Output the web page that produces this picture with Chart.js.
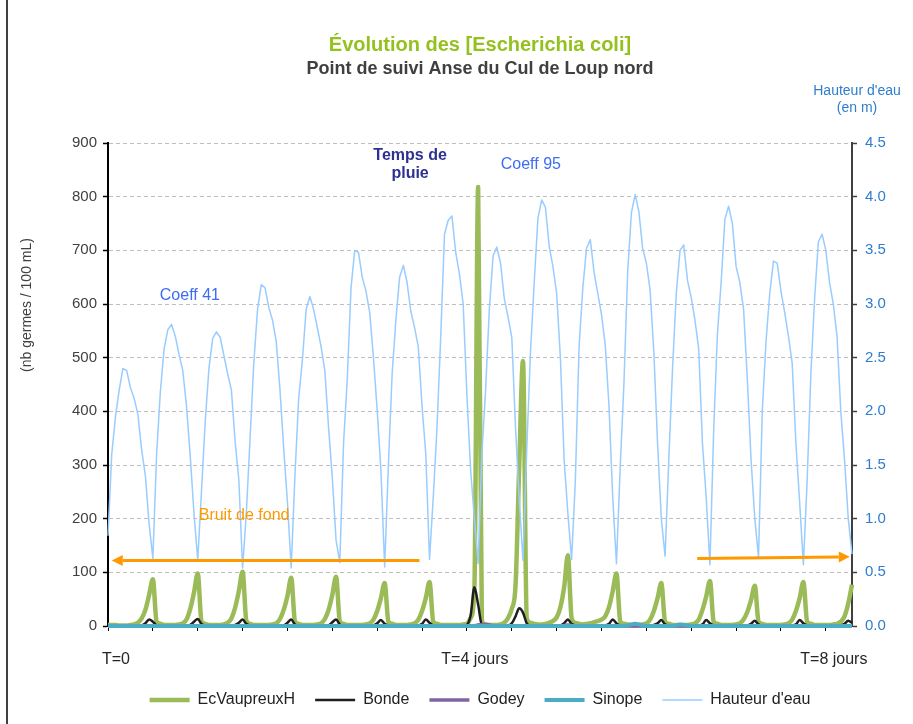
<!DOCTYPE html>
<html lang="fr">
<head>
<meta charset="utf-8">
<title>Évolution des [Escherichia coli]</title>
<script src="https://cdn.jsdelivr.net/npm/chart.js@4.4.1/dist/chart.umd.min.js"></script>
<style>
  html, body { margin: 0; padding: 0; background: #ffffff; }
  #wrap { width: 913px; height: 724px; position: relative; }
</style>
</head>
<body>
<div id="wrap"><canvas id="chart" width="913" height="724"></canvas></div>
<script>
// ---- Data: hourly samples over ~8 days (hour 0 .. 199) ----
const hours = Array.from({ length: 200 }, (_, i) => i);

// Water height (m), right axis
const hauteurEau = [
  0.84, 1.6, 1.95, 2.2, 2.4, 2.38, 2.22, 2.12, 1.97, 1.64, 1.4, 0.95,     // 0-11
  0.63, 1.6, 2.18, 2.58, 2.76, 2.81, 2.7, 2.53, 2.38, 2.05, 1.58, 1.05,   // 12-23
  0.61, 1.25, 1.9, 2.4, 2.68, 2.74, 2.69, 2.52, 2.35, 2.2, 1.72, 1.36,    // 24-35
  0.54, 1.05, 1.75, 2.45, 2.95, 3.18, 3.15, 2.97, 2.85, 2.65, 2.2, 1.65,  // 36-47
  1.15, 0.54, 1.4, 2.12, 2.48, 2.95, 3.07, 2.95, 2.78, 2.6, 2.38, 1.85,   // 48-59
  1.38, 0.8, 0.59, 1.7, 2.3, 3.15, 3.5, 3.48, 3.25, 3.12, 2.92, 2.5,      // 60-71
  2.01, 1.45, 0.55, 1.5, 2.35, 2.85, 3.25, 3.36, 3.2, 2.93, 2.78, 2.6,    // 72-83
  2.05, 1.6, 0.62, 1.2, 1.85, 2.7, 3.65, 3.78, 3.82, 3.48, 3.28, 3.0,     // 84-95
  2.15, 1.45, 1.0, 0.58, 1.6, 2.2, 2.95, 3.45, 3.53, 3.38, 3.05, 2.88,    // 96-107
  2.69, 1.85, 1.17, 0.61, 1.64, 2.55, 3.2, 3.8, 3.97, 3.9, 3.54, 3.35,    // 108-119
  3.1, 2.5, 1.55, 1.05, 0.62, 1.35, 2.6, 3.15, 3.52, 3.6, 3.3, 3.1,       // 120-131
  2.9, 2.62, 2.05, 1.2, 0.58, 1.48, 2.26, 3.3, 3.85, 4.02, 3.86, 3.52,    // 132-143
  3.38, 3.13, 2.55, 1.7, 1.0, 0.65, 1.55, 2.4, 3.1, 3.5, 3.55, 3.22,      // 144-155
  3.06, 2.85, 2.58, 1.7, 1.2, 0.57, 1.82, 2.72, 3.2, 3.79, 3.91, 3.75,    // 156-167
  3.35, 3.2, 2.95, 2.3, 1.55, 1.0, 0.64, 2.0, 2.65, 3.1, 3.4, 3.38,       // 168-179
  3.12, 2.92, 2.7, 2.45, 1.7, 1.15, 0.57, 1.35, 2.35, 3.05, 3.58, 3.65,   // 180-191
  3.5, 3.2, 3.0, 2.7, 2.0, 1.55, 1.0, 0.67                                // 192-199
];

// E. coli counts (nb germes / 100 mL), left axis
const ecVaupreuxH = [
  2, 2, 2, 1, 1, 1, 2, 3, 6, 14, 30, 58,          // 0-11
  87, 8, 4, 2, 2, 2, 2, 3, 5, 12, 32, 62,         // 12-23
  98, 9, 4, 2, 2, 2, 2, 3, 6, 14, 34, 65,         // 24-35
  101, 10, 4, 2, 2, 2, 2, 2, 3, 5, 13, 30,        // 36-47
  56, 90, 9, 4, 2, 2, 2, 2, 3, 5, 13, 30,         // 48-59
  58, 92, 9, 4, 2, 2, 2, 2, 2, 3, 5, 12,          // 60-71
  28, 52, 80, 8, 4, 2, 2, 2, 2, 3, 5, 12,         // 72-83
  28, 52, 82, 8, 4, 2, 2, 2, 2, 2, 2, 3,          // 84-95
  4, 15, 70, 818, 10, 3, 2, 2, 2, 3, 6, 15,       // 96-107
  32, 75, 300, 494, 15, 6, 4, 3, 3, 4, 6, 9,      // 108-119
  16, 35, 72, 132, 15, 6, 4, 3, 4, 5, 7, 9,       // 120-131
  12, 18, 35, 65, 98, 9, 4, 3, 2, 2, 2, 3,        // 132-143
  5, 12, 28, 52, 80, 8, 4, 2, 2, 2, 2, 2,         // 144-155
  3, 5, 12, 30, 55, 84, 8, 4, 2, 2, 2, 2,         // 156-167
  3, 5, 12, 26, 48, 75, 8, 4, 2, 2, 2, 2,         // 168-179
  2, 3, 5, 12, 28, 52, 82, 8, 4, 2, 2, 2,         // 180-191
  2, 2, 3, 4, 8, 18, 42, 77                       // 192-199
];

const bonde = [
  0, 0, 0, 0, 0, 0, 0, 0, 0, 1, 5, 12,
  8, 1, 0, 0, 0, 0, 0, 0, 0, 0, 2, 8,
  13, 4, 1, 0, 0, 0, 0, 0, 0, 1, 2, 6,
  12, 4, 1, 0, 0, 0, 0, 0, 0, 0, 0, 1,
  6, 12, 3, 1, 0, 0, 0, 0, 0, 0, 0, 1,
  7, 12, 3, 1, 0, 0, 0, 0, 0, 0, 0, 1,
  5, 11, 4, 1, 0, 0, 0, 0, 0, 0, 0, 1,
  4, 12, 6, 1, 0, 0, 0, 0, 0, 0, 0, 0,
  2, 20, 72, 40, 2, 0, 0, 0, 0, 0, 0, 1,
  5, 18, 33, 25, 5, 1, 0, 0, 0, 0, 0, 0,
  0, 1, 5, 12, 4, 1, 0, 0, 0, 0, 0, 0,
  0, 1, 4, 12, 5, 1, 0, 0, 0, 0, 0, 0,
  0, 1, 2, 5, 11, 3, 1, 0, 0, 0, 0, 0,
  0, 0, 1, 3, 11, 5, 1, 0, 0, 0, 0, 0,
  0, 0, 1, 1, 4, 10, 3, 0, 0, 0, 0, 0,
  0, 0, 0, 1, 3, 11, 5, 1, 0, 0, 0, 0,
  0, 0, 0, 0, 1, 4, 10, 6
];

const godey = [
  0, 0, 0, 0, 0, 0, 0, 0, 0, 0, 0, 0,
  0, 0, 0, 0, 0, 0, 0, 0, 0, 0, 0, 0,
  0, 0, 0, 0, 0, 0, 0, 0, 0, 0, 0, 0,
  0, 0, 0, 0, 0, 0, 0, 0, 0, 0, 0, 0,
  0, 0, 0, 0, 0, 0, 0, 0, 0, 0, 0, 0,
  0, 0, 0, 0, 0, 0, 0, 0, 0, 0, 0, 0,
  0, 0, 0, 0, 0, 0, 0, 0, 0, 0, 0, 0,
  0, 0, 0, 0, 0, 0, 0, 0, 0, 0, 0, 0,
  0, 0, 0, 2, 3, 3, 2, 0, 0, 0, 0, 0,
  0, 0, 0, 0, 0, 0, 0, 0, 0, 0, 0, 0,
  0, 0, 1, 2, 1, 0, 0, 0, 0, 0, 0, 0,
  0, 0, 0, 0, 0, 0, 0, 0, 0, 0, 0, 0,
  0, 0, 0, 0, 0, 0, 0, 0, 0, 0, 0, 0,
  0, 0, 0, 0, 0, 0, 0, 0, 0, 0, 0, 0,
  0, 0, 0, 0, 0, 0, 0, 0, 0, 0, 0, 0,
  0, 0, 0, 0, 0, 0, 0, 0, 0, 0, 0, 0,
  0, 0, 0, 0, 0, 0, 0, 0
];

const sinope = [
  0, 0, 0, 0, 0, 0, 0, 0, 0, 0, 0, 0,
  0, 0, 0, 0, 0, 0, 0, 0, 0, 0, 0, 0,
  0, 0, 0, 0, 0, 0, 0, 0, 0, 0, 0, 0,
  0, 0, 0, 0, 0, 0, 0, 0, 0, 0, 0, 0,
  0, 0, 0, 0, 0, 0, 0, 0, 0, 0, 0, 0,
  0, 0, 0, 0, 0, 0, 0, 0, 0, 0, 0, 0,
  0, 0, 0, 0, 0, 0, 0, 0, 0, 0, 0, 0,
  0, 0, 0, 0, 0, 0, 0, 0, 0, 0, 0, 0,
  0, 0, 0, 0, 0, 0, 0, 0, 0, 0, 0, 0,
  0, 0, 0, 0, 0, 0, 0, 0, 0, 0, 0, 0,
  0, 0, 0, 0, 0, 0, 0, 0, 0, 0, 0, 0,
  0, 0, 0, 0, 0, 0, 0, 1, 3, 4, 3, 1,
  0, 0, 0, 0, 0, 0, 0, 0, 1, 3, 2, 1,
  0, 0, 0, 0, 0, 0, 0, 0, 0, 0, 0, 0,
  0, 0, 0, 0, 0, 0, 0, 0, 0, 0, 0, 0,
  0, 0, 0, 0, 0, 0, 0, 0, 0, 0, 0, 0,
  0, 0, 0, 0, 0, 0, 0, 0
];

// Time-axis labels and the hours they sit on
const timeLabels = ['T=0', 'T=4 jours', 'T=8 jours'];
const timeLabelHours = [0, 96, 192];

// ---- Styling ----
const FONT = "'Liberation Sans', Arial, Helvetica, sans-serif";
Chart.defaults.font.family = FONT;
const AXIS_BLUE = '#2f7dd0';
const COEFF_BLUE = '#3d6df2';
const ORANGE = '#ff9900';

// Text notes and arrows placed in data space (hour, left-axis value)
const notes = [
  { text: 'Coeff 41', hour: 21.9, value: 615, color: COEFF_BLUE, bold: false },
  { text: 'Temps de', hour: 80.8, value: 876, color: '#2e3192', bold: true },
  { text: 'pluie', hour: 80.8, value: 843, color: '#2e3192', bold: true },
  { text: 'Coeff 95', hour: 113.1, value: 859, color: COEFF_BLUE, bold: false },
  { text: 'Bruit de fond', hour: 36.4, value: 205, color: ORANGE, bold: false }
];
const arrows = [
  { from: [83.3, 122], to: [1.0, 122] },
  { from: [157.6, 126], to: [198.4, 129] }
];

const notesPlugin = {
  id: 'notesPlugin',
  beforeDraw(chart) {
    const { ctx, width, height } = chart;
    ctx.save();
    ctx.fillStyle = '#ffffff';
    ctx.fillRect(0, 0, width, height);
    // outer frame edge of the chart object
    ctx.strokeStyle = '#000000';
    ctx.lineWidth = 1.5;
    ctx.beginPath();
    ctx.moveTo(7, 0);
    ctx.lineTo(7, height);
    ctx.stroke();
    ctx.restore();
  },
  afterDatasetsDraw(chart) {
    const { ctx, scales: { x, y } } = chart;
    ctx.save();
    ctx.strokeStyle = ORANGE;
    ctx.fillStyle = ORANGE;
    ctx.lineWidth = 3;
    arrows.forEach(a => {
      const x1 = x.getPixelForValue(a.from[0]), y1 = y.getPixelForValue(a.from[1]);
      const x2 = x.getPixelForValue(a.to[0]), y2 = y.getPixelForValue(a.to[1]);
      const ang = Math.atan2(y2 - y1, x2 - x1);
      const headLen = 11, headHalf = 5.5;
      const bx = x2 - headLen * Math.cos(ang), by = y2 - headLen * Math.sin(ang);
      ctx.beginPath();
      ctx.moveTo(x1, y1);
      ctx.lineTo(bx, by);
      ctx.stroke();
      ctx.beginPath();
      ctx.moveTo(x2, y2);
      ctx.lineTo(bx + headHalf * Math.sin(ang), by - headHalf * Math.cos(ang));
      ctx.lineTo(bx - headHalf * Math.sin(ang), by + headHalf * Math.cos(ang));
      ctx.closePath();
      ctx.fill();
    });
    ctx.textAlign = 'center';
    ctx.textBaseline = 'middle';
    notes.forEach(n => {
      ctx.font = (n.bold ? 'bold ' : '') + '16px ' + FONT;
      ctx.fillStyle = n.color;
      ctx.fillText(n.text, x.getPixelForValue(n.hour), y.getPixelForValue(n.value));
    });
    ctx.restore();
  },
  afterDraw(chart) {
    const { ctx, chartArea: a } = chart;
    ctx.save();
    // left axis title
    ctx.font = '14px ' + FONT;
    ctx.fillStyle = '#404040';
    ctx.textAlign = 'center';
    ctx.textBaseline = 'middle';
    ctx.translate(a.left - 81, a.top + 162);
    ctx.rotate(-Math.PI / 2);
    ctx.fillText('(nb germes / 100 mL)', 0, 0);
    ctx.restore();
    // right axis title
    ctx.save();
    ctx.font = '14px ' + FONT;
    ctx.fillStyle = AXIS_BLUE;
    ctx.textAlign = 'center';
    ctx.textBaseline = 'middle';
    ctx.fillText("Hauteur d'eau", a.right + 5, a.top - 52);
    ctx.fillText('(en m)', a.right + 5, a.top - 35);
    ctx.restore();
  }
};

const lineBase = { pointRadius: 0, pointHoverRadius: 0, borderJoinStyle: 'round', fill: false, clip: false };

new Chart(document.getElementById('chart'), {
  type: 'line',
  data: {
    labels: hours,
    datasets: [
      { ...lineBase, label: 'EcVaupreuxH', data: ecVaupreuxH, yAxisID: 'y', borderColor: '#9bbb59', backgroundColor: '#9bbb59', borderWidth: 4.5, cubicInterpolationMode: 'monotone', order: 4 },
      { ...lineBase, label: 'Bonde', data: bonde, yAxisID: 'y', borderColor: '#1f1f1f', backgroundColor: '#1f1f1f', borderWidth: 2.5, cubicInterpolationMode: 'monotone', order: 3 },
      { ...lineBase, label: 'Godey', data: godey, yAxisID: 'y', borderColor: '#8064a2', backgroundColor: '#8064a2', borderWidth: 3.5, order: 2 },
      { ...lineBase, label: 'Sinope', data: sinope, yAxisID: 'y', borderColor: '#4bacc6', backgroundColor: '#4bacc6', borderWidth: 4, order: 1 },
      { ...lineBase, label: "Hauteur d'eau", data: hauteurEau, yAxisID: 'y2', borderColor: '#99ccff', backgroundColor: '#99ccff', borderWidth: 1.5, order: 0 }
    ]
  },
  options: {
    responsive: false,
    animation: false,
    devicePixelRatio: 1,
    layout: { padding: { left: 0, right: 0, top: 0, bottom: 6 } },
    plugins: {
      title: {
        display: true,
        fullSize: false,
        text: 'Évolution des [Escherichia coli]',
        color: '#95c11f',
        font: { size: 20, weight: 'bold' },
        padding: { top: 33, bottom: 0 }
      },
      subtitle: {
        display: true,
        fullSize: false,
        text: 'Point de suivi Anse du Cul de Loup nord',
        color: '#404040',
        font: { size: 18, weight: 'bold' },
        padding: { top: 1, bottom: 63.4 }
      },
      legend: {
        display: true,
        position: 'bottom',
        fullSize: false,
        labels: {
          usePointStyle: true,
          pointStyle: 'line',
          pointStyleWidth: 40,
          padding: 20,
          color: '#222222',
          font: { size: 16 },
          sort: (a, b) => a.datasetIndex - b.datasetIndex
        }
      },
      tooltip: { enabled: false }
    },
    scales: {
      x: {
        type: 'category',
        offset: false,
        afterBuildTicks: s => { s.ticks = s.ticks.filter(t => t.value % 12 === 0); },
        afterFit: s => { s.height = 46; },
        ticks: {
          autoSkip: false, maxRotation: 0, minRotation: 0,
          padding: 19, labelOffset: 8,
          color: '#262626', font: { size: 16 },
          callback: v => { const k = timeLabelHours.indexOf(v); return k >= 0 ? timeLabels[k] : ''; }
        },
        grid: { display: true, drawOnChartArea: false, drawTicks: true, tickLength: 5, tickColor: '#000000', tickWidth: 1 },
        border: { display: true, color: '#000000', width: 1 }
      },
      y: {
        type: 'linear',
        position: 'left',
        min: 0, max: 900,
        afterFit: s => { s.width = 108; },
        ticks: { stepSize: 100, padding: 6, color: '#404040', font: { size: 15 } },
        grid: { color: '#bfbfbf', lineWidth: 1, drawTicks: true, tickLength: 5, tickColor: '#000000', tickWidth: 1.5 },
        border: { display: true, color: '#000000', width: 2, dash: [4, 3] }
      },
      y2: {
        type: 'linear',
        position: 'right',
        min: 0, max: 4.5,
        afterFit: s => { s.width = 61; },
        ticks: { stepSize: 0.5, padding: 8, color: AXIS_BLUE, font: { size: 15 }, callback: v => Number(v).toFixed(1) },
        grid: { drawOnChartArea: false, drawTicks: true, tickLength: 5, tickColor: '#404040', tickWidth: 1.5 },
        border: { display: true, color: '#404040', width: 2 }
      }
    }
  },
  plugins: [notesPlugin]
});
</script>
</body>
</html>
